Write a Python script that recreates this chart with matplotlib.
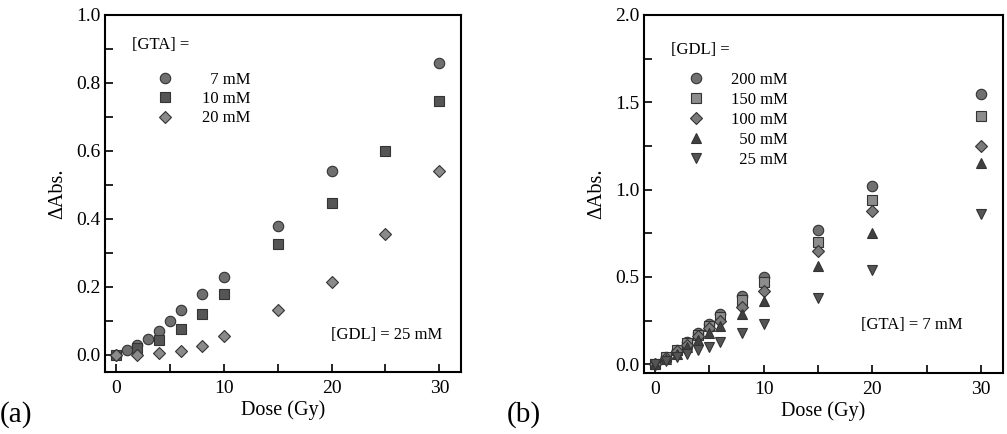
import matplotlib
matplotlib.use("Agg")
import matplotlib.pyplot as plt
from matplotlib.ticker import MultipleLocator, FormatStrFormatter

plt.rcParams['font.family'] = ['Liberation Serif', 'DejaVu Serif']

# panel (a): [GDL] = 25 mM, varying [GTA]
dose_a7 = [0, 1, 2, 3, 4, 5, 6, 8, 10, 15, 20, 30]
abs_a7 = [0.0, 0.015, 0.03, 0.048, 0.07, 0.10, 0.133, 0.18, 0.23, 0.38, 0.54, 0.86]
dose_a10 = [0, 2, 4, 6, 8, 10, 15, 20, 25, 30]
abs_a10 = [0.0, 0.02, 0.045, 0.075, 0.122, 0.18, 0.325, 0.447, 0.60, 0.748]
dose_a20 = [0, 2, 4, 6, 8, 10, 15, 20, 25, 30]
abs_a20 = [0.0, 0.0, 0.005, 0.013, 0.027, 0.057, 0.133, 0.215, 0.357, 0.54]

# panel (b): [GTA] = 7 mM, varying [GDL]
dose_b = [0, 1, 2, 3, 4, 5, 6, 8, 10, 15, 20, 30]
abs_b200 = [0.0, 0.04, 0.08, 0.13, 0.18, 0.23, 0.29, 0.39, 0.50, 0.77, 1.02, 1.55]
abs_b150 = [0.0, 0.04, 0.08, 0.12, 0.17, 0.22, 0.27, 0.37, 0.47, 0.70, 0.94, 1.42]
abs_b100 = [0.0, 0.035, 0.075, 0.11, 0.16, 0.21, 0.25, 0.33, 0.42, 0.65, 0.88, 1.25]
abs_b50 = [0.0, 0.03, 0.06, 0.10, 0.14, 0.18, 0.22, 0.29, 0.36, 0.56, 0.75, 1.15]
abs_b25 = [0.0, 0.02, 0.04, 0.06, 0.08, 0.10, 0.13, 0.18, 0.23, 0.38, 0.54, 0.86]

fig = plt.figure(figsize=(10.07, 4.34), dpi=100)
ax1 = fig.add_axes([0.1043, 0.1429, 0.3535, 0.8226])
ax2 = fig.add_axes([0.6395, 0.1406, 0.3565, 0.825])

ms = 7.5
ec = '#333333'
ax1.plot(dose_a7, abs_a7, 'o', ms=ms, color='#6f6f6f', mec=ec, mew=0.8, label='  7 mM')
ax1.plot(dose_a10, abs_a10, 's', ms=ms - 0.5, color='#555555', mec=ec, mew=0.8, label='10 mM')
ax1.plot(dose_a20, abs_a20, 'D', ms=ms - 1, color='#8a8a8a', mec=ec, mew=0.8, label='20 mM')

ax2.plot(dose_b, abs_b200, 'o', ms=ms, color='#707070', mec=ec, mew=0.8, label='200 mM')
ax2.plot(dose_b, abs_b150, 's', ms=ms - 0.5, color='#8c8c8c', mec=ec, mew=0.8, label='150 mM')
ax2.plot(dose_b, abs_b100, 'D', ms=ms - 1, color='#7a7a7a', mec=ec, mew=0.8, label='100 mM')
ax2.plot(dose_b, abs_b50, '^', ms=ms, color='#404040', mec=ec, mew=0.8, label='  50 mM')
ax2.plot(dose_b, abs_b25, 'v', ms=ms, color='#555555', mec=ec, mew=0.8, label='  25 mM')

for ax in (ax1, ax2):
    ax.set_xlim(-1, 32)
    ax.xaxis.set_major_locator(MultipleLocator(10))
    ax.xaxis.set_minor_locator(MultipleLocator(5))
    ax.tick_params(which='both', direction='in', length=6, width=1.2, labelsize=14)
    ax.tick_params(axis='x', pad=6)
    for s in ax.spines.values():
        s.set_linewidth(1.5)
    ax.set_xlabel('Dose (Gy)', fontsize=14.5, labelpad=2)
    ax.set_ylabel('ΔAbs.', fontsize=14.5, labelpad=6)
    ax.yaxis.set_major_formatter(FormatStrFormatter('%.1f'))

ax1.set_ylim(-0.05, 1.0)
ax1.yaxis.set_major_locator(MultipleLocator(0.2))
ax1.yaxis.set_minor_locator(MultipleLocator(0.1))

ax2.set_ylim(-0.05, 2.0)
ax2.yaxis.set_major_locator(MultipleLocator(0.5))
ax2.yaxis.set_minor_locator(MultipleLocator(0.25))

leg1 = ax1.legend(title='[GTA] =', loc='upper left', bbox_to_anchor=(0.056, 0.958),
                  frameon=False, fontsize=12, title_fontsize=12, alignment='left',
                  handlelength=4.0, handletextpad=0.2, labelspacing=0.19, borderaxespad=0)
leg1._legend_box.sep = 14
leg2 = ax2.legend(title='[GDL] =', loc='upper left', bbox_to_anchor=(0.058, 0.942),
                  frameon=False, fontsize=12, title_fontsize=12, alignment='left',
                  handlelength=3.0, handletextpad=0.6, labelspacing=0.24, borderaxespad=0)
leg2._legend_box.sep = 10

ax1.text(0.947, 0.104, '[GDL] = 25 mM', transform=ax1.transAxes, ha='right', va='center', fontsize=12)
ax2.text(0.889, 0.134, '[GTA] = 7 mM', transform=ax2.transAxes, ha='right', va='center', fontsize=12)

fig.text(0.0, 0.045, '(a)', fontsize=21, va='center')
fig.text(0.503, 0.045, '(b)', fontsize=21, va='center')

fig.savefig('out.png', dpi=100)
